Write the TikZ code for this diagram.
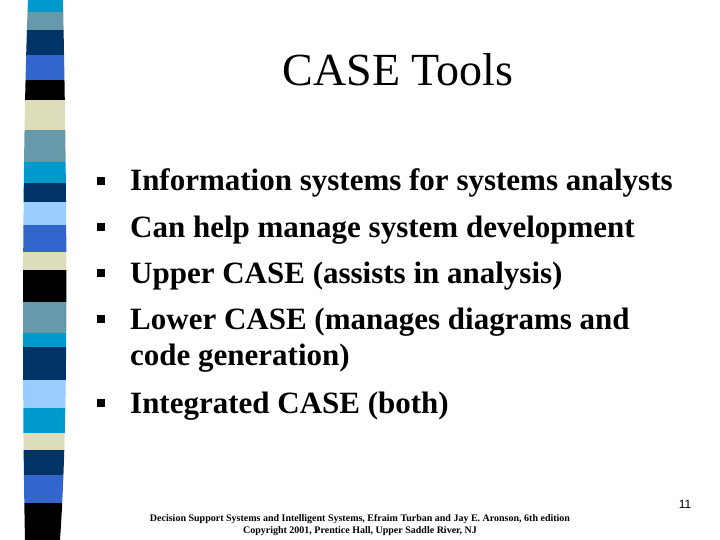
\documentclass[tikz,border=0pt]{standalone}
\usepackage{fontspec}
\setmainfont{Liberation Serif}
\setsansfont{Liberation Sans}
\definecolor{cc}{HTML}{0099CC}
\definecolor{gb}{HTML}{6699AA}
\definecolor{nv}{HTML}{003366}
\definecolor{rb}{HTML}{3366CC}
\definecolor{cr}{HTML}{DDDDBB}
\definecolor{lb}{HTML}{99CCFF}
\begin{document}
\begin{tikzpicture}[x=1pt,y=-1pt,
  bul/.style={fill=black,minimum size=8pt,inner sep=0pt},
  item/.style={anchor=base west,font=\fontsize{31}{36}\selectfont\bfseries,inner sep=0pt}]
\useasboundingbox (0,0) rectangle (720,540);
\begin{scope}
\clip (28,0) .. controls (22,150) and (22,400) .. (25,540) -- (60,540) .. controls (70,400) and (66,150) .. (63,0) -- cycle;
\foreach \a/\b/\c in {0/12/cc,12/30/gb,30/55/nv,55/80/rb,80/100/black,100/130/cr,130/162/gb,162/183/cc,183/202/nv,202/225/lb,225/252/rb,252/270/cr,270/302/black,302/333/gb,333/347/cc,347/380/nv,380/408/lb,408/433/cc,433/450/cr,450/475/nv,475/503/rb,503/540/black}
  \fill[\c] (0,\a) rectangle (100,\b);
\end{scope}
\node[font=\fontsize{46}{50}\selectfont] (title) at (398,70) {CASE Tools};
\foreach \y/\t [count=\i] in {191/Information systems for systems analysts,237/Can help manage system development,283/Upper CASE (assists in analysis),329/Lower CASE (manages diagrams and,413/Integrated CASE (both)}{
  \node[bul] (b\i) at (101,\y-10) {};
  \node[item] (t\i) at (130,\y) {\t};
}
\node[item] (t4b) at (130,365) {code generation)};
\node[font=\sffamily\fontsize{12}{14}\selectfont] (pg) at (685,504) {11};
\node[font=\fontsize{10}{12}\selectfont\bfseries,align=center] (ft) at (360,525) {Decision Support Systems and Intelligent Systems, Efraim Turban and Jay E. Aronson, 6th edition\\Copyright 2001, Prentice Hall, Upper Saddle River, NJ};
\end{tikzpicture}
\end{document}
